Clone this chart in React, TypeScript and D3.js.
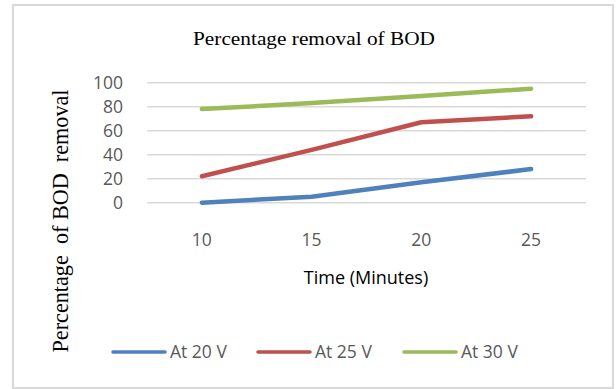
import React from "react";
import * as d3 from "d3";

const categories = ["10", "15", "20", "25"];
const seriesNames = ["At 20 V", "At 25 V", "At 30 V"];
const at20V = [0, 5, 17, 28];
const at25V = [22, 44, 67, 72];
const at30V = [78, 83, 89, 95];
const yTicks = [0, 20, 40, 60, 80, 100];
const colors = ["#4F81BD", "#C0504D", "#9BBB59"];

const W = 616;
const H = 389;

export default function App() {
  const x = d3.scaleBand<string>().domain(categories).range([147, 586]);
  const y = d3.scaleLinear().domain([0, 100]).range([202.7, 82.7]);
  const series = [at20V, at25V, at30V];
  const line = d3
    .line<number>()
    .x((_, i) => (x(categories[i]) as number) + x.bandwidth() / 2)
    .y((d) => y(d));

  const legendX = [113, 258, 404];
  const sans = "'Open Sans', 'Noto Sans', sans-serif";
  const serif = "'Liberation Serif', 'Times New Roman', serif";

  return (
    <svg
      width={W}
      height={H}
      style={{ position: "absolute", left: 0, top: 0, background: "#fff" }}
    >
      <rect x={13} y={5} width={600} height={383} fill="#fff" stroke="#d9d9d9" strokeWidth={2} />
      <text
        x={314}
        y={45}
        textAnchor="middle"
        fontFamily={serif}
        fontSize={19}
        textLength={242}
        lengthAdjust="spacingAndGlyphs"
        fill="#000"
      >
        Percentage removal of BOD
      </text>
      {yTicks.map((t) => (
        <g key={t}>
          <line x1={147} x2={586} y1={y(t)} y2={y(t)} stroke="#d9d9d9" strokeWidth={1.5} />
          <text
            x={123}
            y={y(t)}
            dy="0.36em"
            textAnchor="end"
            fontFamily={sans}
            fontSize={17.5}
            fill="#595959"
          >
            {t}
          </text>
        </g>
      ))}
      {categories.map((c) => (
        <text
          key={c}
          x={(x(c) as number) + x.bandwidth() / 2}
          y={246}
          textAnchor="middle"
          fontFamily={sans}
          fontSize={17.5}
          fill="#595959"
        >
          {c}
        </text>
      ))}
      {series.map((s, i) => (
        <path
          key={i}
          d={line(s) as string}
          fill="none"
          stroke={colors[i]}
          strokeWidth={4.5}
          strokeLinecap="round"
          strokeLinejoin="round"
        />
      ))}
      <text
        x={366}
        y={284}
        textAnchor="middle"
        fontFamily={sans}
        fontSize={18}
        fill="#000"
      >
        Time (Minutes)
      </text>
      <text
        transform="translate(68,221) rotate(-90)"
        textAnchor="middle"
        fontFamily={serif}
        fontSize={23}
        textLength={263}
        lengthAdjust="spacingAndGlyphs"
        fill="#000"
        style={{ whiteSpace: "pre" }}
      >
        {"Percentage  of BOD  removal"}
      </text>
      {seriesNames.map((n, i) => (
        <g key={n}>
          <line
            x1={legendX[i]}
            x2={legendX[i] + 52}
            y1={352}
            y2={352}
            stroke={colors[i]}
            strokeWidth={3.5}
            strokeLinecap="round"
          />
          <text
            x={legendX[i] + 57}
            y={352}
            dy="0.36em"
            fontFamily={sans}
            fontSize={17.5}
            fill="#595959"
          >
            {n}
          </text>
        </g>
      ))}
    </svg>
  );
}
